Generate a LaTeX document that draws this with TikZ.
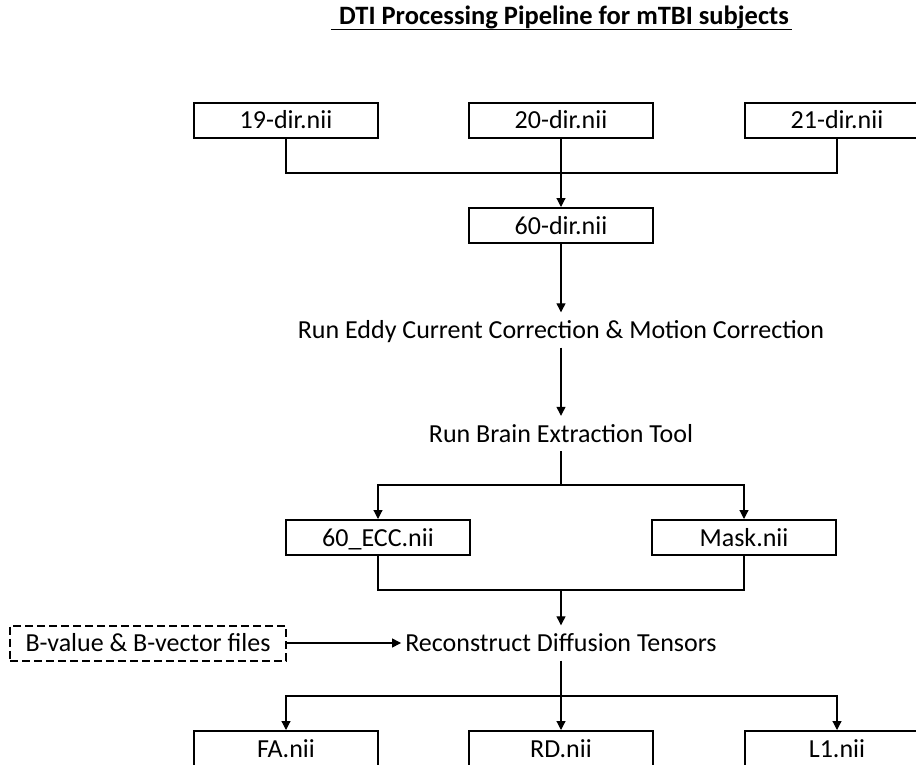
\documentclass[tikz,border=0pt]{standalone}
\usepackage{fontspec}
\setmainfont{Carlito}
\usetikzlibrary{arrows.meta}

\tikzset{
  filebox/.style={draw, line width=2pt, minimum width=184pt, minimum height=35pt,
    inner sep=0pt, text height=17pt, text depth=0pt},
  stepnode/.style={minimum height=35pt, inner xsep=4pt, inner ysep=0pt,
    text height=17pt, text depth=0pt},
  link/.style={line width=1.2pt},
  flow/.style={link, -{Triangle[length=9pt,width=9pt]}}
}

\begin{document}
\begin{tikzpicture}[x=1pt,y=-1pt,font=\fontsize{26}{31}\selectfont]
\useasboundingbox (0,0) rectangle (916,765);
% title
\node[font=\fontsize{26.5}{32}\selectfont\bfseries, anchor=base, inner sep=0pt] (title) at (564,25) {DTI Processing Pipeline for mTBI subjects};
\draw[line width=1.6pt] ([xshift=-8pt,yshift=-4.5pt]title.base west) -- ([xshift=3pt,yshift=-4.5pt]title.base east);
% input volumes
\node[filebox] (d19) at (286,120.5) {19-dir.nii};
\node[filebox] (d20) at (561,120.5) {20-dir.nii};
\node[filebox] (d21) at (837,120.5) {21-dir.nii};
\node[filebox] (d60) at (561,225.5) {60-dir.nii};
% processing steps
\node[stepnode] (eddy) at (561,330) {Run Eddy Current Correction \& Motion Correction};
\node[stepnode] (bet) at (561,433.5) {Run Brain Extraction Tool};
\node[filebox] (ecc) at (378,537.5) {60\_ECC.nii};
\node[filebox] (mask) at (744,537.5) {Mask.nii};
\node[stepnode] (recon) at (561,643) {Reconstruct Diffusion Tensors};
\node[filebox, minimum width=276pt, dash pattern=on 8pt off 4pt] (bval) at (148,643) {B-value \& B-vector files};
% outputs
\node[filebox] (fa) at (286,748.5) {FA.nii};
\node[filebox] (rd) at (561,748.5) {RD.nii};
\node[filebox] (lone) at (837,748.5) {L1.nii};
% junctions
\coordinate (m1) at (561,173);
\coordinate (s1) at (561,485);
\coordinate (m2) at (561,590);
\coordinate (s2) at (561,696);
% connectors
\draw[link] (d19.south) |- (m1) -| (d21.south);
\draw[flow] (d20.south) -- (d60.north);
\draw[flow] (d60.south) -- (eddy.north);
\draw[flow] (eddy.south) -- (bet.north);
\draw[link] (bet.south) -- (s1);
\draw[flow] (s1) -| (ecc.north);
\draw[flow] (s1) -| (mask.north);
\draw[link] (ecc.south) |- (m2) -| (mask.south);
\draw[flow] (m2) -- (recon.north);
\draw[flow] (bval.east) -- (recon.west);
\draw[link] (recon.south) -- (s2);
\draw[flow] (s2) -| (fa.north);
\draw[flow] (s2) -- (rd.north);
\draw[flow] (s2) -| (lone.north);
\end{tikzpicture}
\end{document}
